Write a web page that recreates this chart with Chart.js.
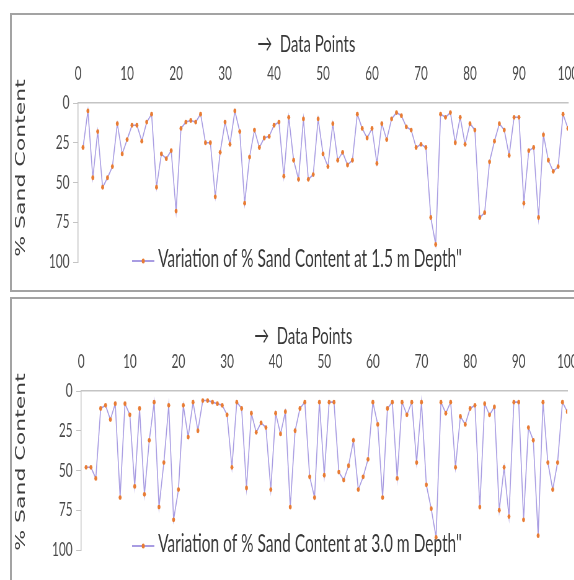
<!DOCTYPE html>
<html>
<head>
<meta charset="utf-8">
<script src="https://cdn.jsdelivr.net/npm/chart.js@4.4.0/dist/chart.umd.min.js"></script>
<style>
  html, body { margin: 0; padding: 0; background: #fff; }
  body { width: 574px; height: 580px; position: relative; overflow: hidden; }
  .panel { position: absolute; left: 10px; width: 620px; border: 2px solid #a3a3a3; box-sizing: border-box; }
  /* the reference is a horizontally squeezed screenshot: draw wide, squeeze with css */
  .wrap { position: absolute; left: 0; width: 926px; transform: scaleX(0.62); transform-origin: 0 0; }
</style>
</head>
<body>
<div class="panel" style="top:13px;height:279px"></div>
<div class="panel" style="top:297px;height:290px"></div>
<div class="wrap" style="top:0;height:292px"><canvas id="depth15" width="926" height="292"></canvas></div>
<div class="wrap" style="top:292px;height:288px"><canvas id="depth30" width="926" height="288"></canvas></div>
<script>
// data points (x)
var dataPoints = [1, 2, 3, 4, 5, 6, 7, 8, 9, 10, 11, 12, 13, 14, 15, 16, 17, 18, 19, 20,
  21, 22, 23, 24, 25, 26, 27, 28, 29, 30, 31, 32, 33, 34, 35, 36, 37, 38, 39, 40,
  41, 42, 43, 44, 45, 46, 47, 48, 49, 50, 51, 52, 53, 54, 55, 56, 57, 58, 59, 60,
  61, 62, 63, 64, 65, 66, 67, 68, 69, 70, 71, 72, 73, 74, 75, 76, 77, 78, 79, 80,
  81, 82, 83, 84, 85, 86, 87, 88, 89, 90, 91, 92, 93, 94, 95, 96, 97, 98, 99, 100];

// % sand content at 1.5 m
var sand15 = [28, 5, 47, 18, 53, 47, 40, 13, 32, 23, 14, 14, 24, 12, 7, 53, 32, 35, 30, 68,
  16, 12, 11, 12, 7, 25, 25, 59, 31, 12, 26, 5, 18, 63, 34, 17, 28, 22, 21, 14,
  12, 46, 9, 36, 48, 10, 48, 45, 10, 32, 40, 13, 36, 31, 39, 36, 7, 16, 22, 16,
  38, 13, 23, 10, 6, 8, 15, 17, 28, 26, 28, 72, 89, 7, 9, 6, 25, 9, 26, 13,
  17, 72, 69, 37, 24, 13, 17, 33, 9, 9, 63, 30, 28, 72, 20, 36, 43, 40, 7, 16];

// % sand content at 3.0 m
var sand30 = [48, 48, 55, 11, 9, 18, 8, 67, 8, 15, 60, 11, 65, 31, 7, 73, 45, 9, 81, 62,
  9, 29, 7, 25, 6, 6, 7, 8, 9, 15, 48, 7, 11, 61, 14, 26, 20, 23, 62, 14,
  27, 13, 73, 25, 11, 7, 54, 67, 7, 53, 7, 7, 51, 56, 47, 31, 62, 54, 43, 7,
  21, 67, 11, 7, 55, 7, 15, 7, 45, 7, 59, 74, 92, 7, 14, 7, 48, 16, 21, 11,
  9, 73, 8, 15, 10, 75, 48, 79, 7, 7, 81, 23, 31, 91, 7, 45, 62, 45, 7, 13];

var xTitle = '\u2192  Data Points';
var yTitle = '% Sand Content';
var label15 = 'Variation of % Sand Content at 1.5 m Depth"';
var label30 = 'Variation of % Sand Content at 3.0 m Depth"';

var lineColor = 'rgb(168, 156, 226)';
var markerColor = 'rgb(232, 124, 52)';
var textColor = '#383838';

// titles and the in-plot legend
var decorations = {
    id: 'decorations',
    afterDraw: function(chart, args, opts) {
        var ctx = chart.ctx;
        ctx.save();
        ctx.fillStyle = textColor;
        ctx.textAlign = 'center';
        ctx.textBaseline = 'middle';
        ctx.font = '24px Lato';
        ctx.fillText(xTitle, opts.titleX, opts.titleY);

        ctx.save();
        ctx.translate(opts.yTitleX, opts.yTitleY);
        ctx.rotate(-Math.PI / 2);
        ctx.fillStyle = '#3c3c3c';
        ctx.font = '22px "DejaVu Sans"';
        ctx.fillText(yTitle, 0, 0);
        ctx.restore();

        // legend: line, marker, text
        var ds = chart.data.datasets[0];
        ctx.strokeStyle = lineColor;
        ctx.lineWidth = 2;
        ctx.beginPath();
        ctx.moveTo(opts.legendX, opts.legendY);
        ctx.lineTo(opts.legendX + 36, opts.legendY);
        ctx.stroke();
        ctx.fillStyle = markerColor;
        ctx.beginPath();
        ctx.arc(opts.legendX + 18, opts.legendY, 2.5, 0, Math.PI * 2);
        ctx.fill();
        ctx.fillStyle = textColor;
        ctx.textAlign = 'left';
        ctx.font = '25px Lato';
        ctx.fillText(ds.label, opts.legendX + 42, opts.legendY - 2);
        ctx.restore();
    }
};

function makeChart(id, values, label, geo) {
    var ctx = document.getElementById(id).getContext('2d');
    return new Chart(ctx, {
        type: 'line',
        data: {
            labels: dataPoints,
            datasets: [{
                label: label,
                data: values,
                borderColor: lineColor,
                borderWidth: 1.6,
                backgroundColor: markerColor,
                pointBackgroundColor: markerColor,
                pointBorderColor: markerColor,
                pointRadius: 2.4,
                pointBorderWidth: 0,
                tension: 0,
                fill: false
            }]
        },
        options: {
            responsive: false,
            animation: false,
            devicePixelRatio: 1,
            layout: { padding: { left: 0, top: 0, right: geo.padRight, bottom: geo.padBottom } },
            plugins: {
                legend: { display: false },
                tooltip: { enabled: false },
                decorations: geo
            },
            scales: {
                x: {
                    type: 'linear',
                    position: 'top',
                    min: 0,
                    max: 100,
                    ticks: { stepSize: 10, color: '#484848', font: { family: 'Lato', size: 19 }, padding: 18, maxRotation: 0 },
                    grid: { display: true, drawOnChartArea: false, drawTicks: false, color: '#c8c8c8' },
                    border: { display: true, color: '#c4c4c4', width: 1.5 },
                    afterFit: function(scale) {
                        scale.height = geo.axisTop;
                        scale.paddingLeft = 0;
                        scale.paddingRight = 0;
                    }
                },
                y: {
                    min: 0,
                    max: 100,
                    reverse: true,
                    ticks: { stepSize: 25, color: '#484848', font: { family: 'Lato', size: 19 }, padding: 6 },
                    grid: { display: true, drawOnChartArea: false, drawTicks: true, tickLength: 8, color: '#c4c4c4' },
                    border: { display: true, color: '#c4c4c4', width: 1.5 },
                    afterFit: function(scale) {
                        scale.width = geo.axisLeft;
                        scale.paddingTop = 0;
                        scale.paddingBottom = 0;
                    }
                }
            }
        },
        plugins: [decorations]
    });
}

makeChart('depth15', sand15, label15, {
    padRight: 10, padBottom: 30, axisTop: 103, axisLeft: 126,
    titleX: 494, titleY: 44, yTitleX: 34, yTitleY: 168, legendX: 213, legendY: 261
});
makeChart('depth30', sand30, label30, {
    padRight: 11, padBottom: 30, axisTop: 99, axisLeft: 131,
    titleX: 489, titleY: 44, yTitleX: 34, yTitleY: 170, legendX: 213, legendY: 254
});
</script>
</body>
</html>
